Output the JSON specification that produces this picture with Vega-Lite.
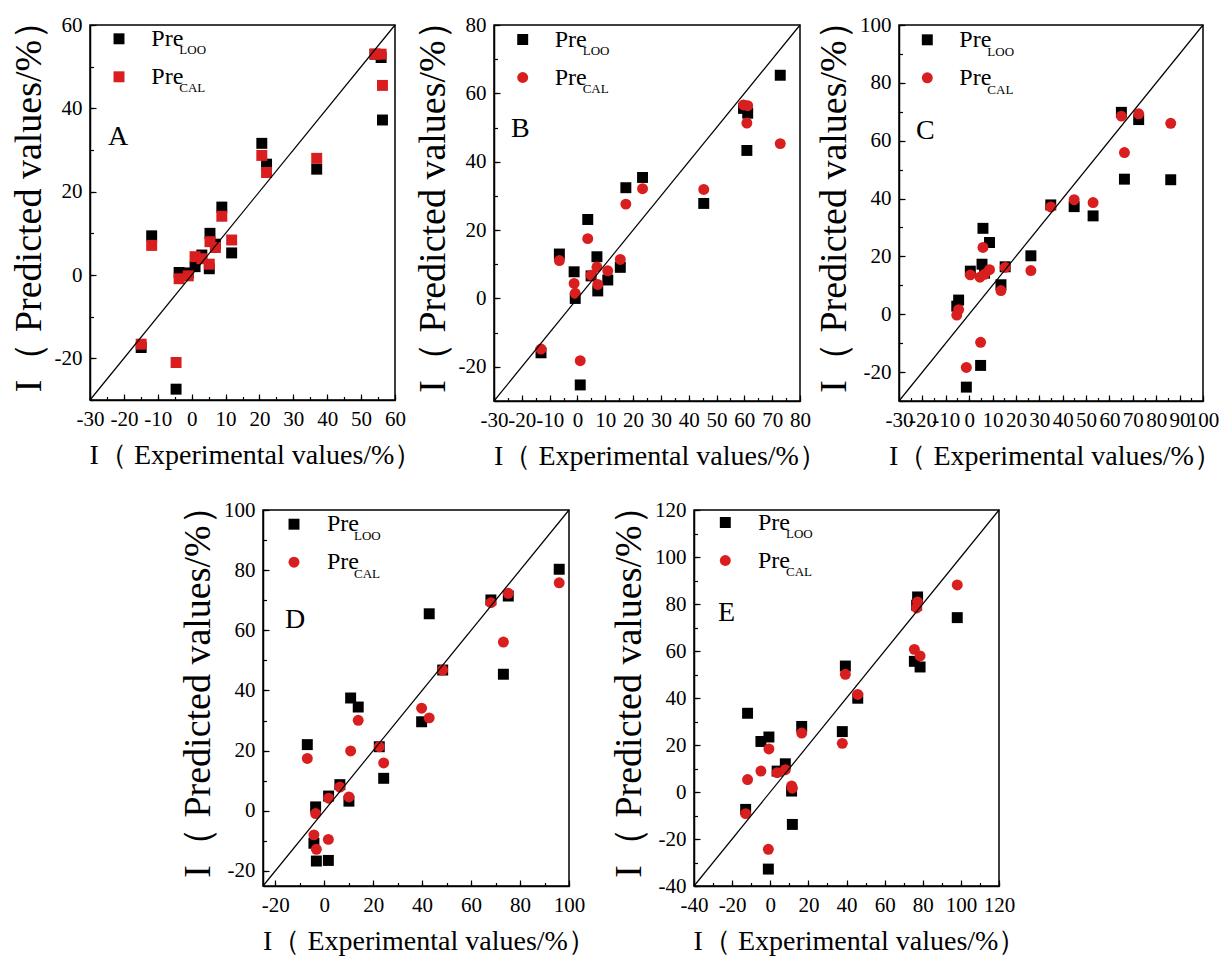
{
  "$schema": "https://vega.github.io/schema/vega-lite/v6.json",
  "background": "white",
  "padding": {"left": 9, "top": 0, "right": 0, "bottom": 0},
  "datasets": {
    "pts": [
      {"panel":"A","series":"LOO","exp":-14.9,"pred":-17.4},{"panel":"A","series":"LOO","exp":-11.8,"pred":9.4},{"panel":"A","series":"LOO","exp":-4.6,"pred":-27.4},{"panel":"A","series":"LOO","exp":-3.7,"pred":0.6},{"panel":"A","series":"LOO","exp":-1.0,"pred":0.5},{"panel":"A","series":"LOO","exp":1.0,"pred":2.0},{"panel":"A","series":"LOO","exp":3.0,"pred":4.8},{"panel":"A","series":"LOO","exp":5.2,"pred":1.5},{"panel":"A","series":"LOO","exp":5.4,"pred":10.0},{"panel":"A","series":"LOO","exp":7.0,"pred":7.4},{"panel":"A","series":"LOO","exp":8.9,"pred":16.3},{"panel":"A","series":"LOO","exp":11.8,"pred":5.3},{"panel":"A","series":"LOO","exp":20.7,"pred":31.6},{"panel":"A","series":"LOO","exp":22.1,"pred":26.6},{"panel":"A","series":"LOO","exp":36.9,"pred":25.4},{"panel":"A","series":"LOO","exp":54.1,"pred":53.0},{"panel":"A","series":"LOO","exp":55.9,"pred":52.2},{"panel":"A","series":"LOO","exp":56.3,"pred":37.2},
      {"panel":"A","series":"CAL","exp":-14.9,"pred":-16.6},{"panel":"A","series":"CAL","exp":-11.8,"pred":7.1},{"panel":"A","series":"CAL","exp":-4.6,"pred":-21.0},{"panel":"A","series":"CAL","exp":-3.7,"pred":-0.9},{"panel":"A","series":"CAL","exp":-1.0,"pred":-0.2},{"panel":"A","series":"CAL","exp":1.0,"pred":4.4},{"panel":"A","series":"CAL","exp":3.0,"pred":3.9},{"panel":"A","series":"CAL","exp":5.2,"pred":2.6},{"panel":"A","series":"CAL","exp":5.4,"pred":8.0},{"panel":"A","series":"CAL","exp":7.0,"pred":6.6},{"panel":"A","series":"CAL","exp":8.9,"pred":14.1},{"panel":"A","series":"CAL","exp":11.8,"pred":8.4},{"panel":"A","series":"CAL","exp":20.7,"pred":28.7},{"panel":"A","series":"CAL","exp":22.1,"pred":24.6},{"panel":"A","series":"CAL","exp":36.9,"pred":28.0},{"panel":"A","series":"CAL","exp":54.1,"pred":53.0},{"panel":"A","series":"CAL","exp":55.9,"pred":53.0},{"panel":"A","series":"CAL","exp":56.3,"pred":45.5},
      {"panel":"B","series":"LOO","exp":-13.1,"pred":-15.9},{"panel":"B","series":"LOO","exp":-6.5,"pred":13.0},{"panel":"B","series":"LOO","exp":-1.2,"pred":7.8},{"panel":"B","series":"LOO","exp":-0.8,"pred":0.0},{"panel":"B","series":"LOO","exp":1.0,"pred":-25.3},{"panel":"B","series":"LOO","exp":3.7,"pred":23.1},{"panel":"B","series":"LOO","exp":4.9,"pred":6.6},{"panel":"B","series":"LOO","exp":7.0,"pred":12.2},{"panel":"B","series":"LOO","exp":7.3,"pred":2.2},{"panel":"B","series":"LOO","exp":10.9,"pred":5.4},{"panel":"B","series":"LOO","exp":15.4,"pred":9.1},{"panel":"B","series":"LOO","exp":17.4,"pred":32.4},{"panel":"B","series":"LOO","exp":23.4,"pred":35.4},{"panel":"B","series":"LOO","exp":45.4,"pred":27.8},{"panel":"B","series":"LOO","exp":59.7,"pred":55.6},{"panel":"B","series":"LOO","exp":61.2,"pred":54.2},{"panel":"B","series":"LOO","exp":60.9,"pred":43.3},{"panel":"B","series":"LOO","exp":72.9,"pred":65.3},
      {"panel":"B","series":"CAL","exp":-13.1,"pred":-14.8},{"panel":"B","series":"CAL","exp":-6.5,"pred":11.1},{"panel":"B","series":"CAL","exp":-1.2,"pred":4.4},{"panel":"B","series":"CAL","exp":-0.8,"pred":1.5},{"panel":"B","series":"CAL","exp":1.0,"pred":-18.2},{"panel":"B","series":"CAL","exp":3.7,"pred":17.5},{"panel":"B","series":"CAL","exp":4.9,"pred":6.8},{"panel":"B","series":"CAL","exp":7.0,"pred":9.2},{"panel":"B","series":"CAL","exp":7.3,"pred":4.1},{"panel":"B","series":"CAL","exp":10.9,"pred":8.1},{"panel":"B","series":"CAL","exp":15.4,"pred":11.4},{"panel":"B","series":"CAL","exp":17.4,"pred":27.6},{"panel":"B","series":"CAL","exp":23.4,"pred":32.1},{"panel":"B","series":"CAL","exp":45.4,"pred":31.9},{"panel":"B","series":"CAL","exp":59.7,"pred":56.6},{"panel":"B","series":"CAL","exp":61.2,"pred":56.4},{"panel":"B","series":"CAL","exp":60.9,"pred":51.3},{"panel":"B","series":"CAL","exp":72.9,"pred":45.3},
      {"panel":"C","series":"LOO","exp":-5.3,"pred":2.8},{"panel":"C","series":"LOO","exp":-4.5,"pred":4.9},{"panel":"C","series":"LOO","exp":-1.2,"pred":-25.2},{"panel":"C","series":"LOO","exp":0.5,"pred":14.9},{"panel":"C","series":"LOO","exp":4.9,"pred":-17.7},{"panel":"C","series":"LOO","exp":5.5,"pred":17.3},{"panel":"C","series":"LOO","exp":5.9,"pred":29.7},{"panel":"C","series":"LOO","exp":6.6,"pred":14.2},{"panel":"C","series":"LOO","exp":8.7,"pred":24.8},{"panel":"C","series":"LOO","exp":13.6,"pred":10.2},{"panel":"C","series":"LOO","exp":15.4,"pred":16.4},{"panel":"C","series":"LOO","exp":26.4,"pred":20.2},{"panel":"C","series":"LOO","exp":34.9,"pred":37.8},{"panel":"C","series":"LOO","exp":44.9,"pred":37.2},{"panel":"C","series":"LOO","exp":53.0,"pred":34.0},{"panel":"C","series":"LOO","exp":65.1,"pred":69.8},{"panel":"C","series":"LOO","exp":66.4,"pred":46.7},{"panel":"C","series":"LOO","exp":72.5,"pred":67.3},{"panel":"C","series":"LOO","exp":86.2,"pred":46.5},
      {"panel":"C","series":"CAL","exp":-5.3,"pred":-0.3},{"panel":"C","series":"CAL","exp":-4.5,"pred":1.6},{"panel":"C","series":"CAL","exp":-1.2,"pred":-18.4},{"panel":"C","series":"CAL","exp":0.5,"pred":13.6},{"panel":"C","series":"CAL","exp":4.9,"pred":-9.7},{"panel":"C","series":"CAL","exp":4.6,"pred":12.8},{"panel":"C","series":"CAL","exp":5.9,"pred":23.1},{"panel":"C","series":"CAL","exp":6.6,"pred":13.8},{"panel":"C","series":"CAL","exp":8.7,"pred":15.4},{"panel":"C","series":"CAL","exp":13.6,"pred":8.2},{"panel":"C","series":"CAL","exp":15.4,"pred":16.2},{"panel":"C","series":"CAL","exp":26.4,"pred":15.1},{"panel":"C","series":"CAL","exp":34.9,"pred":37.1},{"panel":"C","series":"CAL","exp":44.9,"pred":39.6},{"panel":"C","series":"CAL","exp":53.0,"pred":38.6},{"panel":"C","series":"CAL","exp":65.1,"pred":68.5},{"panel":"C","series":"CAL","exp":66.4,"pred":55.9},{"panel":"C","series":"CAL","exp":72.5,"pred":69.3},{"panel":"C","series":"CAL","exp":86.2,"pred":66.0},
      {"panel":"D","series":"LOO","exp":-6.9,"pred":22.0},{"panel":"D","series":"LOO","exp":-4.2,"pred":-10.8},{"panel":"D","series":"LOO","exp":-3.5,"pred":1.3},{"panel":"D","series":"LOO","exp":-3.2,"pred":-16.7},{"panel":"D","series":"LOO","exp":1.7,"pred":-16.5},{"panel":"D","series":"LOO","exp":1.8,"pred":4.9},{"panel":"D","series":"LOO","exp":6.4,"pred":8.7},{"panel":"D","series":"LOO","exp":10.1,"pred":3.2},{"panel":"D","series":"LOO","exp":10.8,"pred":37.5},{"panel":"D","series":"LOO","exp":13.9,"pred":34.5},{"panel":"D","series":"LOO","exp":22.5,"pred":21.3},{"panel":"D","series":"LOO","exp":24.3,"pred":10.8},{"panel":"D","series":"LOO","exp":39.8,"pred":29.6},{"panel":"D","series":"LOO","exp":42.9,"pred":65.5},{"panel":"D","series":"LOO","exp":48.4,"pred":46.8},{"panel":"D","series":"LOO","exp":68.1,"pred":70.1},{"panel":"D","series":"LOO","exp":73.2,"pred":45.4},{"panel":"D","series":"LOO","exp":75.2,"pred":71.4},{"panel":"D","series":"LOO","exp":96.0,"pred":80.3},
      {"panel":"D","series":"CAL","exp":-6.9,"pred":17.4},{"panel":"D","series":"CAL","exp":-4.2,"pred":-8.0},{"panel":"D","series":"CAL","exp":-3.5,"pred":-0.9},{"panel":"D","series":"CAL","exp":-3.2,"pred":-12.8},{"panel":"D","series":"CAL","exp":1.7,"pred":-9.5},{"panel":"D","series":"CAL","exp":1.8,"pred":4.2},{"panel":"D","series":"CAL","exp":6.4,"pred":7.9},{"panel":"D","series":"CAL","exp":10.1,"pred":4.6},{"panel":"D","series":"CAL","exp":10.8,"pred":19.9},{"panel":"D","series":"CAL","exp":13.9,"pred":30.1},{"panel":"D","series":"CAL","exp":22.5,"pred":21.3},{"panel":"D","series":"CAL","exp":24.3,"pred":15.9},{"panel":"D","series":"CAL","exp":39.8,"pred":34.1},{"panel":"D","series":"CAL","exp":42.9,"pred":30.9},{"panel":"D","series":"CAL","exp":48.4,"pred":46.8},{"panel":"D","series":"CAL","exp":68.1,"pred":69.2},{"panel":"D","series":"CAL","exp":73.2,"pred":56.1},{"panel":"D","series":"CAL","exp":75.2,"pred":72.3},{"panel":"D","series":"CAL","exp":96.0,"pred":75.8},
      {"panel":"E","series":"LOO","exp":-12.9,"pred":-7.4},{"panel":"E","series":"LOO","exp":-11.9,"pred":33.5},{"panel":"E","series":"LOO","exp":-4.9,"pred":21.5},{"panel":"E","series":"LOO","exp":-1.0,"pred":-32.8},{"panel":"E","series":"LOO","exp":-0.7,"pred":23.4},{"panel":"E","series":"LOO","exp":3.6,"pred":8.9},{"panel":"E","series":"LOO","exp":7.9,"pred":12.0},{"panel":"E","series":"LOO","exp":11.2,"pred":0.4},{"panel":"E","series":"LOO","exp":11.6,"pred":-13.8},{"panel":"E","series":"LOO","exp":16.5,"pred":27.9},{"panel":"E","series":"LOO","exp":37.8,"pred":25.7},{"panel":"E","series":"LOO","exp":39.4,"pred":53.6},{"panel":"E","series":"LOO","exp":45.9,"pred":39.9},{"panel":"E","series":"LOO","exp":75.6,"pred":55.6},{"panel":"E","series":"LOO","exp":76.8,"pred":79.5},{"panel":"E","series":"LOO","exp":77.3,"pred":83.0},{"panel":"E","series":"LOO","exp":78.6,"pred":53.2},{"panel":"E","series":"LOO","exp":98.1,"pred":74.2},
      {"panel":"E","series":"CAL","exp":-12.9,"pred":-9.2},{"panel":"E","series":"CAL","exp":-11.9,"pred":5.3},{"panel":"E","series":"CAL","exp":-4.9,"pred":8.9},{"panel":"E","series":"CAL","exp":-1.0,"pred":-24.4},{"panel":"E","series":"CAL","exp":-0.7,"pred":18.3},{"panel":"E","series":"CAL","exp":3.6,"pred":8.2},{"panel":"E","series":"CAL","exp":7.9,"pred":9.5},{"panel":"E","series":"CAL","exp":11.2,"pred":2.6},{"panel":"E","series":"CAL","exp":11.6,"pred":1.6},{"panel":"E","series":"CAL","exp":16.5,"pred":25.1},{"panel":"E","series":"CAL","exp":37.8,"pred":20.7},{"panel":"E","series":"CAL","exp":39.4,"pred":50.1},{"panel":"E","series":"CAL","exp":45.9,"pred":41.5},{"panel":"E","series":"CAL","exp":75.6,"pred":60.7},{"panel":"E","series":"CAL","exp":76.8,"pred":78.3},{"panel":"E","series":"CAL","exp":77.3,"pred":80.9},{"panel":"E","series":"CAL","exp":78.6,"pred":57.9},{"panel":"E","series":"CAL","exp":98.1,"pred":88.1}
    ]
  },
  "bounds": "flush",
  "spacing": 485,
  "resolve": {"scale": {"color": "independent", "shape": "independent"}},
  "vconcat": [
    {
      "bounds": "flush",
      "spacing": 99,
      "resolve": {"scale": {"color": "independent", "shape": "independent"}},
      "hconcat": [
        {
          "width": 305, "height": 375,
          "resolve": {"axis": {"x": "independent", "y": "independent"}},
          "layer": [
            {"data": {"name": "pts"}, "transform": [{"filter": "datum.panel === 'A'"}],
             "mark": {"type": "point", "filled": true, "size": 120, "opacity": 1},
             "encoding": {
               "x": {"field": "exp", "type": "quantitative", "scale": {"domain": [-30, 60], "nice": false, "zero": false},
                     "axis": {"orient": "bottom", "title": "I（ Experimental values/%）", "titleX": 165.5, "values": [-30,-20,-10,0,10,20,30,40,50,60], "labelExpr": "'' + datum.value"}},
               "y": {"field": "pred", "type": "quantitative", "scale": {"domain": [-30, 60], "nice": false, "zero": false},
                     "axis": {"orient": "left", "title": "I（ Predicted values/%）", "titleY": 171.5, "values": [-20,0,20,40,60], "labelExpr": "'' + datum.value"}},
               "color": {"field": "series", "type": "nominal", "scale": {"domain": ["LOO", "CAL"], "range": ["#000000", "#d81e1e"]},
                         "legend": {"title": null, "orient": "none", "legendX": 17, "legendY": 1.8, "labelExpr": "'Pre'", "labelOffset": 20.3, "rowPadding": 14, "padding": 0, "symbolSize": 120}},
               "shape": {"field": "series", "type": "nominal", "scale": {"domain": ["LOO", "CAL"], "range": ["square", "square"]},
                         "legend": {"title": null, "orient": "none", "legendX": 17, "legendY": 1.8, "labelExpr": "'Pre'", "labelOffset": 20.3, "rowPadding": 14, "padding": 0, "symbolSize": 120}}
             }},
            {"data": {"values": [{}]}, "mark": {"type": "rule", "color": "#000", "strokeWidth": 1.2},
             "encoding": {
               "x": {"datum": -30, "axis": {"orient": "bottom", "title": null, "labels": false, "domain": false, "tickSize": -3.5, "values": [-30,-25,-20,-15,-10,-5,0,5,10,15,20,25,30,35,40,45,50,55,60]}},
               "y": {"datum": -30, "axis": {"orient": "left", "title": null, "labels": false, "domain": false, "tickSize": -3.5, "values": [-30,-20,-10,0,10,20,30,40,50,60]}},
               "x2": {"datum": 60}, "y2": {"datum": 60}}},
            {"data": {"values": [{}]}, "mark": {"type": "text", "text": "LOO", "fontSize": 13, "align": "left", "baseline": "alphabetic", "color": "#000"},
             "encoding": {"x": {"datum": -3.65, "axis": null}, "y": {"datum": 52.97, "axis": null}}},
            {"data": {"values": [{}]}, "mark": {"type": "text", "text": "CAL", "fontSize": 13, "align": "left", "baseline": "alphabetic", "color": "#000"},
             "encoding": {"x": {"datum": -3.65, "axis": null}, "y": {"datum": 43.99, "axis": null}}},
            {"data": {"values": [{}]}, "mark": {"type": "text", "text": "A", "fontSize": 28, "align": "left", "baseline": "alphabetic", "color": "#000"},
             "encoding": {"x": {"datum": -24.69, "axis": null}, "y": {"datum": 31.2, "axis": null}}}
          ]
        },
        {
          "width": 306, "height": 376,
          "resolve": {"axis": {"x": "independent", "y": "independent"}},
          "layer": [
            {"data": {"name": "pts"}, "transform": [{"filter": "datum.panel === 'B'"}],
             "mark": {"type": "point", "filled": true, "size": 120, "opacity": 1},
             "encoding": {
               "x": {"field": "exp", "type": "quantitative", "scale": {"domain": [-30, 80], "nice": false, "zero": false},
                     "axis": {"orient": "bottom", "title": "I（ Experimental values/%）", "titleX": 166, "values": [-30,-20,-10,0,10,20,30,40,50,60,70,80], "labelExpr": "'' + datum.value"}},
               "y": {"field": "pred", "type": "quantitative", "scale": {"domain": [-30, 80], "nice": false, "zero": false},
                     "axis": {"orient": "left", "title": "I（ Predicted values/%）", "titleY": 172, "values": [-20,0,20,40,60,80], "labelExpr": "'' + datum.value"}},
               "color": {"field": "series", "type": "nominal", "scale": {"domain": ["LOO", "CAL"], "range": ["#000000", "#d81e1e"]},
                         "legend": {"title": null, "orient": "none", "legendX": 16.7, "legendY": 2.5, "labelExpr": "'Pre'", "labelOffset": 20, "rowPadding": 14, "padding": 0, "symbolSize": 120}},
               "shape": {"field": "series", "type": "nominal", "scale": {"domain": ["LOO", "CAL"], "range": ["square", "circle"]},
                         "legend": {"title": null, "orient": "none", "legendX": 16.7, "legendY": 2.5, "labelExpr": "'Pre'", "labelOffset": 20, "rowPadding": 14, "padding": 0, "symbolSize": 120}}
             }},
            {"data": {"values": [{}]}, "mark": {"type": "rule", "color": "#000", "strokeWidth": 1.2},
             "encoding": {
               "x": {"datum": -30, "axis": {"orient": "bottom", "title": null, "labels": false, "domain": false, "tickSize": -3.5, "values": [-30,-25,-20,-15,-10,-5,0,5,10,15,20,25,30,35,40,45,50,55,60,65,70,75,80]}},
               "y": {"datum": -30, "axis": {"orient": "left", "title": null, "labels": false, "domain": false, "tickSize": -3.5, "values": [-30,-20,-10,0,10,20,30,40,50,60,70,80]}},
               "x2": {"datum": 80}, "y2": {"datum": 80}}},
            {"data": {"values": [{}]}, "mark": {"type": "text", "text": "LOO", "fontSize": 13, "align": "left", "baseline": "alphabetic", "color": "#000"},
             "encoding": {"x": {"datum": 1.88, "axis": null}, "y": {"datum": 71.22, "axis": null}}},
            {"data": {"values": [{}]}, "mark": {"type": "text", "text": "CAL", "fontSize": 13, "align": "left", "baseline": "alphabetic", "color": "#000"},
             "encoding": {"x": {"datum": 1.88, "axis": null}, "y": {"datum": 60.19, "axis": null}}},
            {"data": {"values": [{}]}, "mark": {"type": "text", "text": "B", "fontSize": 28, "align": "left", "baseline": "alphabetic", "color": "#000"},
             "encoding": {"x": {"datum": -23.89, "axis": null}, "y": {"datum": 47.23, "axis": null}}}
          ]
        },
        {
          "width": 304, "height": 376,
          "resolve": {"axis": {"x": "independent", "y": "independent"}},
          "layer": [
            {"data": {"name": "pts"}, "transform": [{"filter": "datum.panel === 'C'"}],
             "mark": {"type": "point", "filled": true, "size": 120, "opacity": 1},
             "encoding": {
               "x": {"field": "exp", "type": "quantitative", "scale": {"domain": [-30, 100], "nice": false, "zero": false},
                     "axis": {"orient": "bottom", "title": "I（ Experimental values/%）", "titleX": 156, "values": [-30,-20,-10,0,10,20,30,40,50,60,70,80,90,100], "labelExpr": "'' + datum.value"}},
               "y": {"field": "pred", "type": "quantitative", "scale": {"domain": [-30, 100], "nice": false, "zero": false},
                     "axis": {"orient": "left", "title": "I（ Predicted values/%）", "titleY": 172, "values": [-20,0,20,40,60,80,100], "labelExpr": "'' + datum.value"}},
               "color": {"field": "series", "type": "nominal", "scale": {"domain": ["LOO", "CAL"], "range": ["#000000", "#d81e1e"]},
                         "legend": {"title": null, "orient": "none", "legendX": 16.3, "legendY": 2.8, "labelExpr": "'Pre'", "labelOffset": 20, "rowPadding": 14, "padding": 0, "symbolSize": 120}},
               "shape": {"field": "series", "type": "nominal", "scale": {"domain": ["LOO", "CAL"], "range": ["square", "circle"]},
                         "legend": {"title": null, "orient": "none", "legendX": 16.3, "legendY": 2.8, "labelExpr": "'Pre'", "labelOffset": 20, "rowPadding": 14, "padding": 0, "symbolSize": 120}}
             }},
            {"data": {"values": [{}]}, "mark": {"type": "rule", "color": "#000", "strokeWidth": 1.2},
             "encoding": {
               "x": {"datum": -30, "axis": {"orient": "bottom", "title": null, "labels": false, "domain": false, "tickSize": -3.5, "values": [-30,-25,-20,-15,-10,-5,0,5,10,15,20,25,30,35,40,45,50,55,60,65,70,75,80,85,90,95,100]}},
               "y": {"datum": -30, "axis": {"orient": "left", "title": null, "labels": false, "domain": false, "tickSize": -3.5, "values": [-30,-20,-10,0,10,20,30,40,50,60,70,80,90,100]}},
               "x2": {"datum": 100}, "y2": {"datum": 100}}},
            {"data": {"values": [{}]}, "mark": {"type": "text", "text": "LOO", "fontSize": 13, "align": "left", "baseline": "alphabetic", "color": "#000"},
             "encoding": {"x": {"datum": 7.77, "axis": null}, "y": {"datum": 89.28, "axis": null}}},
            {"data": {"values": [{}]}, "mark": {"type": "text", "text": "CAL", "fontSize": 13, "align": "left", "baseline": "alphabetic", "color": "#000"},
             "encoding": {"x": {"datum": 7.77, "axis": null}, "y": {"datum": 76.24, "axis": null}}},
            {"data": {"values": [{}]}, "mark": {"type": "text", "text": "C", "fontSize": 28, "align": "left", "baseline": "alphabetic", "color": "#000"},
             "encoding": {"x": {"datum": -22.73, "axis": null}, "y": {"datum": 60.58, "axis": null}}}
          ]
        }
      ]
    },
    {
      "bounds": "flush",
      "spacing": 125,
      "resolve": {"scale": {"color": "independent", "shape": "independent"}},
      "hconcat": [
        {"width": 48, "height": 376, "data": {"values": []}, "mark": "point", "encoding": {}, "view": {"stroke": null}},
        {
          "width": 306, "height": 376,
          "resolve": {"axis": {"x": "independent", "y": "independent"}},
          "layer": [
            {"data": {"name": "pts"}, "transform": [{"filter": "datum.panel === 'D'"}],
             "mark": {"type": "point", "filled": true, "size": 120, "opacity": 1},
             "encoding": {
               "x": {"field": "exp", "type": "quantitative", "scale": {"domain": [-25, 100], "nice": false, "zero": false},
                     "axis": {"orient": "bottom", "title": "I（ Experimental values/%）", "titleX": 166, "values": [-20,0,20,40,60,80,100], "labelExpr": "'' + datum.value"}},
               "y": {"field": "pred", "type": "quantitative", "scale": {"domain": [-25, 100], "nice": false, "zero": false},
                     "axis": {"orient": "left", "title": "I（ Predicted values/%）", "titleY": 172, "values": [-20,0,20,40,60,80,100], "labelExpr": "'' + datum.value"}},
               "color": {"field": "series", "type": "nominal", "scale": {"domain": ["LOO", "CAL"], "range": ["#000000", "#d81e1e"]},
                         "legend": {"title": null, "orient": "none", "legendX": 19, "legendY": 2.2, "labelExpr": "'Pre'", "labelOffset": 21, "rowPadding": 14, "padding": 0, "symbolSize": 120}},
               "shape": {"field": "series", "type": "nominal", "scale": {"domain": ["LOO", "CAL"], "range": ["square", "circle"]},
                         "legend": {"title": null, "orient": "none", "legendX": 19, "legendY": 2.2, "labelExpr": "'Pre'", "labelOffset": 21, "rowPadding": 14, "padding": 0, "symbolSize": 120}}
             }},
            {"data": {"values": [{}]}, "mark": {"type": "rule", "color": "#000", "strokeWidth": 1.2},
             "encoding": {
               "x": {"datum": -25, "axis": {"orient": "bottom", "title": null, "labels": false, "domain": false, "tickSize": -3.5, "values": [-20,-10,0,10,20,30,40,50,60,70,80,90,100]}},
               "y": {"datum": -25, "axis": {"orient": "left", "title": null, "labels": false, "domain": false, "tickSize": -3.5, "values": [-20,-10,0,10,20,30,40,50,60,70,80,90,100]}},
               "x2": {"datum": 100}, "y2": {"datum": 100}}},
            {"data": {"values": [{}]}, "mark": {"type": "text", "text": "LOO", "fontSize": 13, "align": "left", "baseline": "alphabetic", "color": "#000"},
             "encoding": {"x": {"datum": 12.17, "axis": null}, "y": {"datum": 89.93, "axis": null}}},
            {"data": {"values": [{}]}, "mark": {"type": "text", "text": "CAL", "fontSize": 13, "align": "left", "baseline": "alphabetic", "color": "#000"},
             "encoding": {"x": {"datum": 12.17, "axis": null}, "y": {"datum": 77.39, "axis": null}}},
            {"data": {"values": [{}]}, "mark": {"type": "text", "text": "D", "fontSize": 28, "align": "left", "baseline": "alphabetic", "color": "#000"},
             "encoding": {"x": {"datum": -16.01, "axis": null}, "y": {"datum": 60.77, "axis": null}}}
          ]
        },
        {
          "width": 305, "height": 376,
          "resolve": {"axis": {"x": "independent", "y": "independent"}},
          "layer": [
            {"data": {"name": "pts"}, "transform": [{"filter": "datum.panel === 'E'"}],
             "mark": {"type": "point", "filled": true, "size": 120, "opacity": 1},
             "encoding": {
               "x": {"field": "exp", "type": "quantitative", "scale": {"domain": [-40, 120], "nice": false, "zero": false},
                     "axis": {"orient": "bottom", "title": "I（ Experimental values/%）", "titleX": 165.5, "values": [-40,-20,0,20,40,60,80,100,120], "labelExpr": "'' + datum.value"}},
               "y": {"field": "pred", "type": "quantitative", "scale": {"domain": [-40, 120], "nice": false, "zero": false},
                     "axis": {"orient": "left", "title": "I（ Predicted values/%）", "titleY": 172, "values": [-40,-20,0,20,40,60,80,100,120], "labelExpr": "'' + datum.value"}},
               "color": {"field": "series", "type": "nominal", "scale": {"domain": ["LOO", "CAL"], "range": ["#000000", "#d81e1e"]},
                         "legend": {"title": null, "orient": "none", "legendX": 19.3, "legendY": 0.5, "labelExpr": "'Pre'", "labelOffset": 20.7, "rowPadding": 14, "padding": 0, "symbolSize": 120}},
               "shape": {"field": "series", "type": "nominal", "scale": {"domain": ["LOO", "CAL"], "range": ["square", "circle"]},
                         "legend": {"title": null, "orient": "none", "legendX": 19.3, "legendY": 0.5, "labelExpr": "'Pre'", "labelOffset": 20.7, "rowPadding": 14, "padding": 0, "symbolSize": 120}}
             }},
            {"data": {"values": [{}]}, "mark": {"type": "rule", "color": "#000", "strokeWidth": 1.2},
             "encoding": {
               "x": {"datum": -40, "axis": {"orient": "bottom", "title": null, "labels": false, "domain": false, "tickSize": -3.5, "values": [-40,-30,-20,-10,0,10,20,30,40,50,60,70,80,90,100,110,120]}},
               "y": {"datum": -40, "axis": {"orient": "left", "title": null, "labels": false, "domain": false, "tickSize": -3.5, "values": [-40,-30,-20,-10,0,10,20,30,40,50,60,70,80,90,100,110,120]}},
               "x2": {"datum": 120}, "y2": {"datum": 120}}},
            {"data": {"values": [{}]}, "mark": {"type": "text", "text": "LOO", "fontSize": 13, "align": "left", "baseline": "alphabetic", "color": "#000"},
             "encoding": {"x": {"datum": 8.27, "axis": null}, "y": {"datum": 107.96, "axis": null}}},
            {"data": {"values": [{}]}, "mark": {"type": "text", "text": "CAL", "fontSize": 13, "align": "left", "baseline": "alphabetic", "color": "#000"},
             "encoding": {"x": {"datum": 8.27, "axis": null}, "y": {"datum": 91.91, "axis": null}}},
            {"data": {"values": [{}]}, "mark": {"type": "text", "text": "E", "fontSize": 28, "align": "left", "baseline": "alphabetic", "color": "#000"},
             "encoding": {"x": {"datum": -27.41, "axis": null}, "y": {"datum": 72.77, "axis": null}}}
          ]
        }
      ]
    }
  ],
  "config": {
    "font": "Liberation Serif",
    "view": {"stroke": "#000", "strokeWidth": 1.5},
    "text": {"font": "Liberation Serif"},
    "axis": {
      "domainColor": "#000", "domainWidth": 1.5, "tickColor": "#000", "tickWidth": 1.2, "tickSize": -6,
      "labelFont": "Liberation Serif", "labelFontSize": 21, "labelColor": "#000",
      "titleFont": "Liberation Serif", "titleColor": "#000", "titleFontWeight": "normal",
      "grid": false, "labelOverlap": false, "labelFlush": false
    },
    "axisX": {"labelPadding": 14, "titleFontSize": 28, "titlePadding": 12},
    "axisY": {"labelPadding": 14, "titleFontSize": 38, "titlePadding": 6},
    "legend": {"labelFont": "Liberation Serif", "labelFontSize": 24, "labelColor": "#000", "symbolStrokeWidth": 0}
  }
}
